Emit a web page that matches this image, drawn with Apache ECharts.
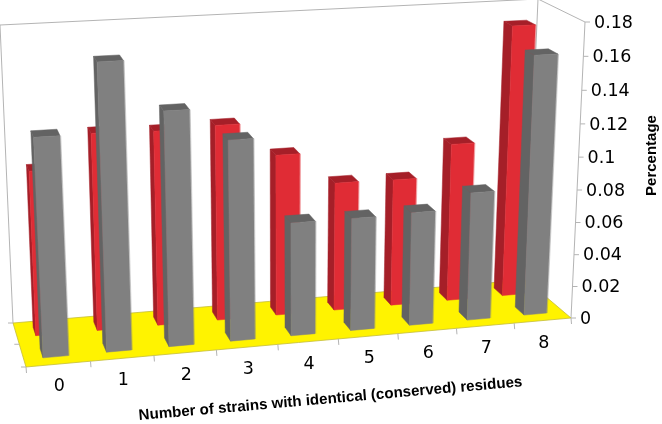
<!DOCTYPE html>
<html><head><meta charset="utf-8">
<style>html,body{margin:0;padding:0;background:#fff}#c{width:662px;height:424px}</style>
<script src="https://cdn.jsdelivr.net/npm/echarts@6/dist/echarts.min.js"></script>
</head><body><div id="c"></div>
<script>
var categories = ['0','1','2','3','4','5','6','7','8'];
var redValues  = [0.0999,0.1198,0.1188,0.12,0.0997,0.0801,0.0796,0.0993,0.1695];
var grayValues = [0.1291,0.1693,0.1395,0.1205,0.069,0.069,0.0698,0.0793,0.1595];
var valueTicks = [0,0.02,0.04,0.06,0.08,0.1,0.12,0.14,0.16,0.18];
var xTitle = 'Number of strains with identical (conserved) residues';
var yTitle = 'Percentage';
var yMax = 0.18;

function homography(p0,p1,p2,p3){
  var dx1=p1[0]-p2[0],dx2=p3[0]-p2[0],sx=p0[0]-p1[0]+p2[0]-p3[0];
  var dy1=p1[1]-p2[1],dy2=p3[1]-p2[1],sy=p0[1]-p1[1]+p2[1]-p3[1];
  var den=dx1*dy2-dx2*dy1;
  var g=(sx*dy2-dx2*sy)/den,h=(dx1*sy-sx*dy1)/den;
  var a=p1[0]-p0[0]+g*p1[0],b=p3[0]-p0[0]+h*p3[0],c=p0[0];
  var d=p1[1]-p0[1]+g*p1[1],e=p3[1]-p0[1]+h*p3[1],f=p0[1];
  return function(u,z){var w=g*u+h*z+1;return [(a*u+b*z+c)/w,(d*u+e*z+f)/w];};
}
var floorH=homography([26,367],[571,318],[525.9,279.8],[13,323]);
var ceilH=homography([11.3,51.6],[585,22],[538,-1],[0,25]);
var K=0.05;
function proj(u,z,t){
  var F=floorH(u,z),T=ceilH(u,z),phi=t/(1+K*(1-t));
  return [F[0]+(T[0]-F[0])*phi,F[1]+(T[1]-F[1])*phi];
}
function poly(pts,fill,stroke){
  return {type:'polygon',shape:{points:pts},style:{fill:fill,stroke:stroke||fill,lineWidth:stroke?0.8:0.5}};
}
function line(p,q,col,w){
  return {type:'line',shape:{x1:p[0],y1:p[1],x2:q[0],y2:q[1]},style:{stroke:col,lineWidth:w||1,fill:null}};
}
function label(p,txt,size,align,rot,weight,fam){
  return {type:'text',x:p[0],y:p[1],rotation:rot||0,style:{text:txt,fontSize:size,fontFamily:fam||'DejaVu Sans',fontWeight:weight||'normal',fill:'#000',align:align||'center',verticalAlign:'middle'}};
}
var WALL='#b4b4b4';
function scales(api,cs){
  return {
    u:function(x){return (x-cs.x)/cs.width;},
    t:function(v){return (cs.y+cs.height-api.coord([0,v])[1])/cs.height;}
  };
}
function frameItem(params,api){
  var cs=params.coordSys,sc=scales(api,cs),kids=[];
  var tTop=sc.t(yMax);
  kids.push(line(proj(0,1,0),proj(0,1,tTop),WALL));
  kids.push(line(proj(0,1,tTop),proj(1,1,tTop),WALL));
  kids.push(line(proj(1,1,0),proj(1,1,tTop),WALL));
  kids.push(line(proj(1,1,tTop),proj(1,0,tTop),WALL));
  kids.push(line(proj(1,0,0),proj(1,0,tTop),WALL));
  kids.push(poly([proj(0,0,0),proj(1,0,0),proj(1,1,0),proj(0,1,0)],'#fff300','#c4bc3a'));
  [0,0.5,1].forEach(function(z){var p=proj(0,z,0);kids.push(line([p[0]-5,p[1]],p,WALL));});
  for(var i=0;i<=categories.length;i++){
    var p=proj(i/categories.length,0,0);kids.push(line(p,[p[0]+0.5,p[1]+6],WALL));
  }
  valueTicks.forEach(function(v){
    var p=proj(1,0,sc.t(v));
    kids.push(line(p,[p[0]+5,p[1]],WALL));
    kids.push(label([p[0]+9,p[1]+1.2],String(v),17.5,'left'));
  });
  categories.forEach(function(cn,i){
    var u=sc.u(api.coord([i,0])[0]);
    var p=proj(u,0,0);
    kids.push(label([p[0]+1,p[1]+22.5],cn,17.5));
  });
  kids.push(label([330.5,399],xTitle,15.1,'center',0.088,'bold','Liberation Sans'));
  kids.push(label([651.5,155.5],yTitle,15,'center',Math.PI/2,'bold','Liberation Sans'));
  return {type:'group',children:kids};
}
function barItem(z0,z1,front,side,edge){
  return function(params,api){
    var cs=params.coordSys,sc=scales(api,cs);
    var i=api.value(0),val=api.value(1);
    var cx=sc.u(api.coord([i,0])[0]);
    var hw=api.size([1,0])[0]*0.2/cs.width;
    var u0=cx-hw,u1=cx+hw,t=sc.t(val);
    var a0=proj(u1,z0,0),a1=proj(u1,z0,t);
    return {type:'group',children:[
      poly([proj(u0,z1,0),proj(u0,z0,0),proj(u0,z0,t),proj(u0,z1,t)],side),
      poly([proj(u0,z0,t),proj(u1,z0,t),proj(u1,z1,t),proj(u0,z1,t)],side),
      poly([proj(u0,z0,0),proj(u1,z0,0),proj(u1,z0,t),proj(u0,z0,t)],front),
      line([a0[0]+0.7,a0[1]],[a1[0]+0.7,a1[1]],edge)
    ]};
  };
}
function rows(vals){return vals.map(function(v,i){return [i,v];});}
var chart=echarts.init(document.getElementById('c'),null,{renderer:'canvas'});
chart.setOption({
  animation:false,
  backgroundColor:'#fff',
  grid:{left:0,right:0,top:0,bottom:0,containLabel:false},
  xAxis:{type:'category',data:categories,show:false},
  yAxis:{type:'value',min:0,max:yMax,show:false},
  series:[
    {type:'custom',coordinateSystem:'cartesian2d',clip:false,silent:true,renderItem:frameItem,data:[[0,0]],encode:{x:0,y:1}},
    {name:'Red',type:'custom',coordinateSystem:'cartesian2d',clip:false,renderItem:barItem(0.66,0.86,'#e02c35','#a51f28','rgba(224,44,53,0.35)'),data:rows(redValues),encode:{x:0,y:1}},
    {name:'Gray',type:'custom',coordinateSystem:'cartesian2d',clip:false,renderItem:barItem(0.16,0.36,'#808080','#636363','rgba(128,128,128,0.35)'),data:rows(grayValues),encode:{x:0,y:1}}
  ]
});
</script></body></html>
